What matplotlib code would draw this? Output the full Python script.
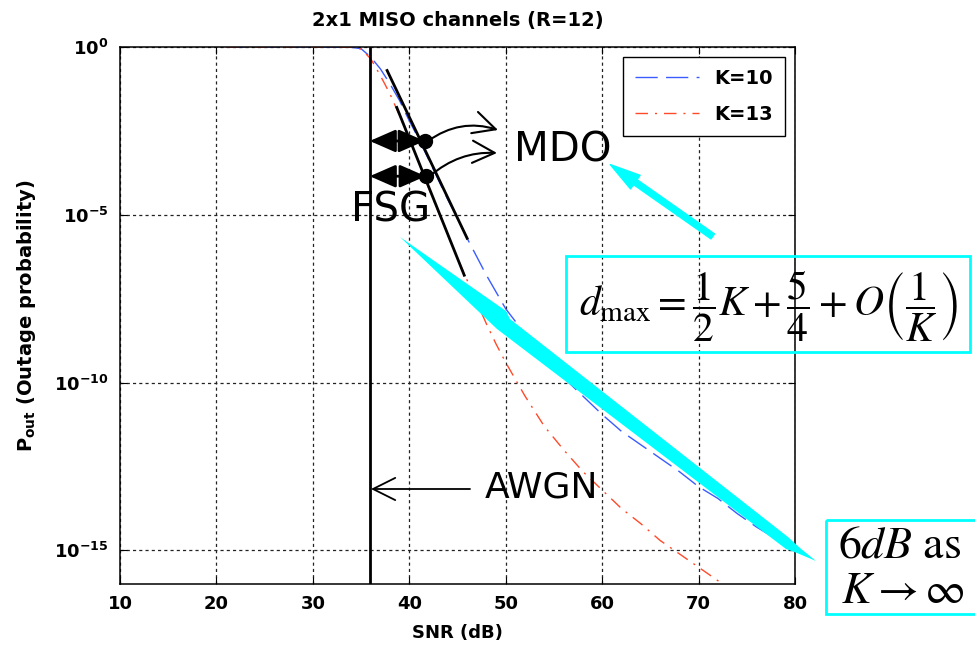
import matplotlib.pyplot as plt
from matplotlib.patches import Polygon, Rectangle, FancyArrowPatch
from matplotlib.transforms import Affine2D
from matplotlib.ticker import NullLocator

W, H = 975, 647

# outage probability curves (log10 of P_out)
snr_k10 = [21, 30, 34, 35, 36, 37, 38, 39, 40, 41, 42, 43, 44, 45, 46, 47, 48, 49, 50,
           52, 54, 56, 58, 60, 62, 64, 66, 68, 70, 72, 74, 76, 78, 80]
logp_k10 = [0, 0, -0.01, -0.05, -0.3, -0.65, -1.1, -1.6, -2.2, -2.75, -3.35, -3.95, -4.55,
            -5.1, -5.7, -6.25, -6.8, -7.3, -7.8, -8.55, -9.2, -9.85, -10.4, -10.95, -11.45,
            -11.85, -12.25, -12.65, -13.1, -13.45, -13.9, -14.3, -14.65, -15.0]

snr_k13 = [21, 30, 34, 35, 36, 37, 38, 39, 40, 41, 42, 43, 44, 45, 46, 47, 48, 49, 50,
           51, 52, 54, 56, 58, 60, 62, 64, 66, 68, 70, 72, 74]
logp_k13 = [0, 0, -0.01, -0.06, -0.35, -0.85, -1.4, -2.05, -2.75, -3.45, -4.2, -4.9, -5.6,
            -6.3, -6.95, -7.6, -8.25, -8.85, -9.4, -9.9, -10.4, -11.3, -12.0, -12.65, -13.2,
            -13.75, -14.2, -14.7, -15.1, -15.5, -15.9, -16.3]

xticks = [10, 20, 30, 40, 50, 60, 70, 80]
yticks = [1e0, 1e-5, 1e-10, 1e-15]
ytick_labels = [r'$\mathbf{10^{0}}$', r'$\mathbf{10^{-5}}$',
                r'$\mathbf{10^{-10}}$', r'$\mathbf{10^{-15}}$']

awgn_snr = 35.9
# tangent lines (SNR, log10 P) end points
tan1 = ([37.7, 46.0], [-0.7, -5.7])
tan2 = ([38.7, 45.7], [-1.8, -6.8])
dots = ([41.6, 41.7], [-2.8, -3.85])

cyan = '#00ffff'

plt.rcParams['font.family'] = 'DejaVu Sans'
fig = plt.figure(figsize=(W / 100, H / 100), dpi=100)
ax = fig.add_axes([120 / W, 1 - 584 / H, 675 / W, 537 / H])
pix = Affine2D().scale(1, -1).translate(0, H)   # image pixel coords

ax.semilogy(snr_k10, [10 ** v for v in logp_k10], color='#3a5cff', lw=1,
            dashes=(16, 6), label='K=10')
ax.semilogy(snr_k13, [10 ** v for v in logp_k13], color='#ff4a2a', lw=1,
            dashes=(9, 5, 1.5, 5), label='K=13')

ax.set_xlim(10, 80)
ax.set_ylim(1e-16, 1)
ax.set_xticks(xticks)
ax.set_yticks(yticks)
ax.set_yticklabels(ytick_labels)
ax.yaxis.set_minor_locator(NullLocator())
ax.tick_params(direction='in', top=True, right=True, length=5, labelsize=13, pad=8)
for lab in ax.get_xticklabels():
    lab.set_fontweight('bold')
ax.grid(True, color='#222222', linestyle=(0, (2.5, 2.5)), lw=0.9)
for s in ax.spines.values():
    s.set_linewidth(1.1)

ax.set_title('2x1 MISO channels (R=12)', fontsize=14, fontweight='bold', pad=15)
ax.set_xlabel('SNR (dB)', fontsize=13, fontweight='bold', labelpad=8)
ax.set_ylabel(r'$\mathbf{P_{out}}$ (Outage probability)', fontsize=14,
              fontweight='bold', labelpad=12)

leg = ax.legend(loc='upper right', bbox_to_anchor=((785 - 120) / 675, (584 - 57) / 537),
                borderaxespad=0, fancybox=False, edgecolor='black', framealpha=1,
                handlelength=3.3, labelspacing=0.9, borderpad=0.6,
                prop={'size': 14, 'weight': 'bold'})
leg.get_frame().set_linewidth(1)

# annotations
ax.axvline(awgn_snr, color='black', lw=2)
ax.plot(tan1[0], [10 ** v for v in tan1[1]], color='black', lw=2)
ax.plot(tan2[0], [10 ** v for v in tan2[1]], color='black', lw=2)
for xd, yd in zip(*dots):
    ax.annotate('', xy=(awgn_snr, 10 ** yd), xytext=(xd, 10 ** yd),
                arrowprops=dict(arrowstyle='<|-|>,head_length=0.8,head_width=0.35',
                                mutation_scale=20, lw=2, color='black',
                                shrinkA=0, shrinkB=0))
ax.plot(dots[0], [10 ** v for v in dots[1]], 'o', color='black', ms=10)

open_head = '->,head_length=0.8,head_width=0.4'
ax.annotate('', xy=(498, 130), xycoords=pix, xytext=(428, 141), textcoords=pix,
            arrowprops=dict(arrowstyle=open_head, mutation_scale=20, lw=1.5,
                            color='black', shrinkA=0, shrinkB=0,
                            connectionstyle='arc3,rad=-0.25'))
ax.annotate('', xy=(497, 153), xycoords=pix, xytext=(430, 176), textcoords=pix,
            arrowprops=dict(arrowstyle=open_head, mutation_scale=20, lw=1.5,
                            color='black', shrinkA=0, shrinkB=0,
                            connectionstyle='arc3,rad=-0.2'))
ax.annotate('', xy=(371, 489), xycoords=pix, xytext=(470, 489), textcoords=pix,
            arrowprops=dict(arrowstyle=open_head, mutation_scale=20, lw=1.3,
                            color='black', shrinkA=0, shrinkB=0))

fig.text(563, 150, 'MDO', transform=pix, fontsize=29, ha='center', va='center')
fig.text(391, 211, 'FSG', transform=pix, fontsize=29, ha='center', va='center')
fig.text(541, 487, 'AWGN', transform=pix, fontsize=26, ha='center', va='center')

# cyan arrows
big = Polygon([(400, 237), (506, 311), (510, 319), (788, 537), (800, 548),
               (816, 561), (797, 553), (786, 549), (497, 329)], closed=True,
              transform=pix, facecolor=cyan, edgecolor='none', zorder=5)
fig.add_artist(big)
small = FancyArrowPatch(posA=(715, 238), posB=(608, 163), transform=pix,
                        arrowstyle='simple,head_length=1.1,head_width=0.6,tail_width=0.22',
                        mutation_scale=20, color=cyan, zorder=5)
fig.add_artist(small)

fig.add_artist(Rectangle((566, 256), 404, 96, transform=pix, fill=False,
                         edgecolor=cyan, lw=2, zorder=5))
fig.text(768, 306, r'$d_{\max} = \dfrac{1}{2}K + \dfrac{5}{4} + O\left(\dfrac{1}{K}\right)$',
         transform=pix, fontsize=30, ha='center', va='center', math_fontfamily='stix')

fig.add_artist(Rectangle((826, 520), 200, 94, transform=pix, fill=False,
                         edgecolor=cyan, lw=2, zorder=5))
fig.text(838, 558, r'$6dB\ \mathrm{as}$', transform=pix, fontsize=33,
         ha='left', va='baseline', math_fontfamily='stix')
fig.text(841, 603, r'$K \rightarrow \infty$', transform=pix, fontsize=32,
         ha='left', va='baseline', math_fontfamily='stix')

fig.savefig('out.png', dpi=100)
